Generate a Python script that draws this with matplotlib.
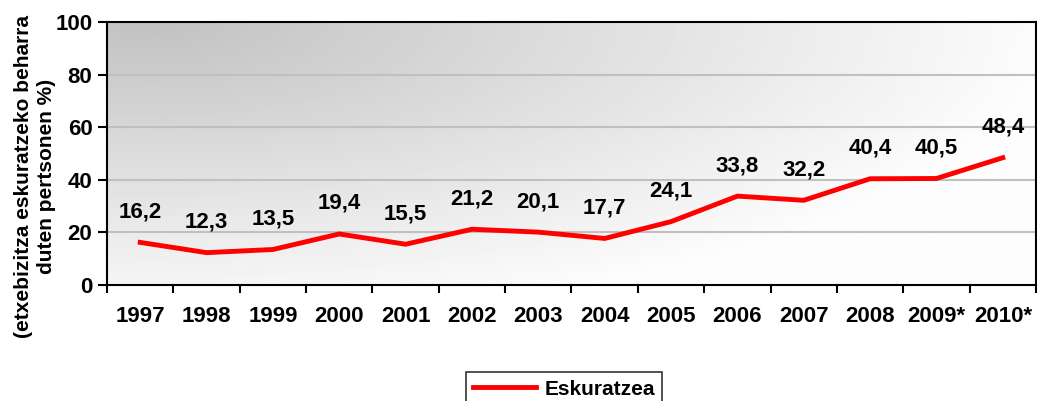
import matplotlib
matplotlib.use("Agg")
import matplotlib.pyplot as plt
import numpy as np

YEARS = ["1997", "1998", "1999", "2000", "2001", "2002", "2003", "2004",
         "2005", "2006", "2007", "2008", "2009*", "2010*"]
VALUES = [16.2, 12.3, 13.5, 19.4, 15.5, 21.2, 20.1, 17.7,
          24.1, 33.8, 32.2, 40.4, 40.5, 48.4]
SERIES = "Eskuratzea"
YLABEL = "(etxebizitza eskuratzeko beharra\nduten pertsonen %)"

plt.rcParams["font.family"] = ["Liberation Sans", "DejaVu Sans"]
plt.rcParams["font.weight"] = "bold"
FS = 16
FS_SMALL = 15

W, H = 1037, 401
L, R, T, B = 107, 1036, 22, 285
fig = plt.figure(figsize=(W / 100, H / 100), dpi=100)
ax = fig.add_axes([L / W, 1 - B / H, (R - L) / W, (B - T) / H])

n = len(YEARS)
x = np.arange(n)

# gradient background: dark towards the top-left, fading to white
px, py = np.meshgrid(np.linspace(L, R, 400), np.linspace(T, B, 150))
r = np.clip(np.sqrt(((px - 150) / 900) ** 2 + ((py - 22) / 300) ** 2), 0, 1)
shade = 0.76 + 0.23 * r
ax.imshow(shade, cmap="gray", vmin=0, vmax=1, aspect="auto",
          extent=(-0.5, n - 0.5, 0, 100), zorder=0)

for g in [20, 40, 60, 80]:
    ax.axhline(g, color="#c0c0c0", lw=1.5, zorder=1)

ax.plot(x, VALUES, color="#ff0000", lw=3.5, label=SERIES, zorder=3,
        solid_joinstyle="miter")
for xi, v in zip(x, VALUES):
    ax.annotate(f"{v:.1f}".replace(".", ","), (xi, v), xytext=(0, 22),
                textcoords="offset points", ha="center", va="center",
                fontsize=FS, fontweight="bold", zorder=4)

ax.set_xlim(-0.5, n - 0.5)
ax.set_ylim(0, 100)
ax.set_yticks([0, 20, 40, 60, 80, 100])
ax.set_xticks(x)
ax.set_xticklabels(YEARS)
ax.set_xticks(np.arange(n + 1) - 0.5, minor=True)
ax.tick_params(axis="x", which="major", length=0, pad=15, labelsize=FS)
ax.tick_params(axis="x", which="minor", length=6, width=1.5)
ax.tick_params(axis="y", length=6.5, width=1.5, pad=4, labelsize=FS)
for lbl in ax.get_xticklabels() + ax.get_yticklabels():
    lbl.set_fontweight("bold")
for s in ax.spines.values():
    s.set_linewidth(1.5)

fig.text(35 / W, 1 - 176 / H, YLABEL, rotation=90, ha="center", va="center",
         fontsize=FS_SMALL, fontweight="bold", linespacing=1.2)

leg = fig.legend(loc="upper center", bbox_to_anchor=(564 / W, 1 - 362 / H),
                 frameon=True, fancybox=False, fontsize=FS_SMALL,
                 handlelength=3.0, borderpad=0.35, handletextpad=0.4)
leg.get_frame().set_edgecolor("black")
leg.get_frame().set_linewidth(1.2)
for t in leg.get_texts():
    t.set_fontweight("bold")

fig.savefig("out.png", dpi=100)
